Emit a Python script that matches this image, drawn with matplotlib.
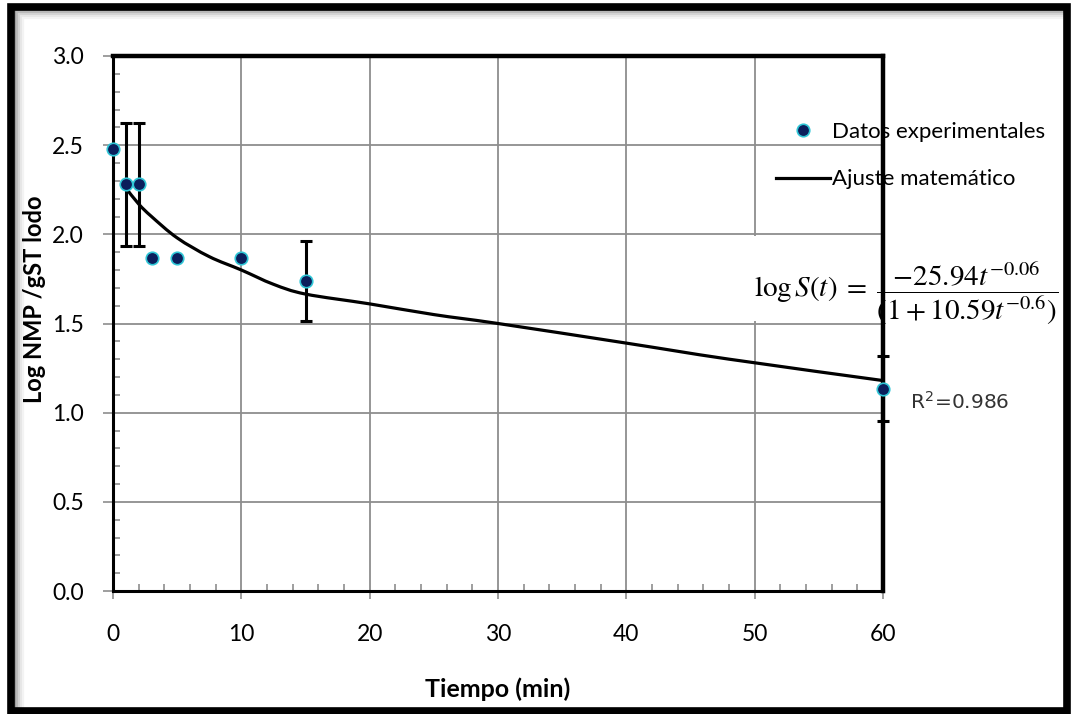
import matplotlib
matplotlib.use("Agg")
import matplotlib.pyplot as plt
from matplotlib.lines import Line2D
from matplotlib.patches import Rectangle, PathPatch
from matplotlib.path import Path
from matplotlib.ticker import MultipleLocator
import numpy as np

plt.rcParams["font.family"] = ["Lato", "DejaVu Sans"]
plt.rcParams["mathtext.fontset"] = "stix"

# experimental points
t_exp = [0, 1, 2, 3, 5, 10, 15, 60]
log_exp = [2.48, 2.28, 2.28, 1.87, 1.87, 1.87, 1.74, 1.135]
err_exp = [0, 0.345, 0.345, 0, 0, 0, 0.225, 0.184]

# fitted curve
t_fit = [1, 2, 3, 5, 7.5, 10, 12.5, 15, 20, 25, 30, 40, 48, 60]
log_fit = [2.26, 2.17, 2.10, 1.98, 1.875, 1.80, 1.72, 1.665, 1.61, 1.55, 1.50, 1.39, 1.30, 1.18]

x_ticks = [0, 10, 20, 30, 40, 50, 60]
y_ticks = [0.0, 0.5, 1.0, 1.5, 2.0, 2.5, 3.0]

W, H = 1071, 714
NAVY = "#0b1f5c"
CYAN = "#2fc6d6"
GRID = "#8e8e8e"


def px(x, y):
    return x / W, 1 - y / H


def smooth_path(x, y):
    # smoothed polyline (cubic Bezier through every point)
    pts = np.column_stack([x, y]).astype(float)
    verts, codes = [pts[0]], [Path.MOVETO]
    n = len(pts)
    for i in range(n - 1):
        p0 = pts[i - 1] if i > 0 else pts[i]
        p1, p2 = pts[i], pts[i + 1]
        p3 = pts[i + 2] if i + 2 < n else pts[i + 1]
        verts += [p1 + (p2 - p0) / 6, p2 - (p3 - p1) / 6, p2]
        codes += [Path.CURVE4] * 3
    return Path(verts, codes)


fig = plt.figure(figsize=(W / 100, H / 100), dpi=100)
fig.patch.set_facecolor("white")

l, b = px(113, 591)
r, t = px(883, 56)
ax = fig.add_axes([l, b, r - l, t - b])
ax.set_axisbelow(True)

ax.add_patch(PathPatch(smooth_path(t_fit, log_fit), fill=False, edgecolor="black",
                       lw=2.3, zorder=2, capstyle="round"))

t_err = [tt for tt, e in zip(t_exp, err_exp) if e > 0]
v_err = [v for v, e in zip(log_exp, err_exp) if e > 0]
e_err = [e for e in err_exp if e > 0]
ax.errorbar(t_err, v_err, yerr=e_err, fmt="none", ecolor="black", elinewidth=2.2,
            capsize=4, capthick=2.2, zorder=3, clip_on=False)

ax.plot(t_exp, log_exp, "o", ms=9, mfc=NAVY, mec=CYAN, mew=1.2, ls="none",
        zorder=4, clip_on=False)

ax.set_xlim(0, 60)
ax.set_ylim(0, 3)
ax.set_xticks(x_ticks)
ax.set_yticks(y_ticks)
ax.set_yticklabels([f"{v:.1f}" for v in y_ticks])
ax.xaxis.set_minor_locator(MultipleLocator(2))
ax.yaxis.set_minor_locator(MultipleLocator(0.1))
ax.tick_params(which="major", direction="out", color=GRID, width=1.2, labelsize=16.5)
ax.tick_params(axis="x", which="major", length=6, pad=18)
ax.tick_params(axis="y", which="major", length=7, pad=14)
ax.tick_params(which="minor", direction="in", color=GRID, width=1.2, length=5)
ax.grid(True, which="major", color=GRID, lw=1.3)

for side in ("top", "right"):
    ax.spines[side].set_linewidth(3.2)
for side in ("left", "bottom"):
    ax.spines[side].set_linewidth(2.2)
for s in ax.spines.values():
    s.set_color("black")
    s.set_zorder(2.5)

ax.set_xlabel("Tiempo (min)", fontsize=18, fontweight="bold")
ax.xaxis.set_label_coords(0.5, -0.161)
ax.set_ylabel("Log NMP /gST lodo", fontsize=17, fontweight="bold")
ax.yaxis.set_label_coords(-0.087, 0.545)

handles = [
    Line2D([], [], marker="o", ms=9, mfc=NAVY, mec=CYAN, mew=1.2, ls="none"),
    Line2D([], [], color="black", lw=2.3),
]
leg = ax.legend(handles, ["Datos experimentales", "Ajuste matemático"],
                loc="upper left", bbox_to_anchor=(0.85, 0.894), frameon=False,
                fontsize=16, handlelength=2.4, handletextpad=0.1, labelspacing=1.25,
                borderaxespad=0)
leg.set_zorder(1)

# white box behind the equation hides the grid
ax.add_patch(Rectangle((0.83, 0.505), 0.4, 0.159, transform=ax.transAxes,
                       facecolor="white", edgecolor="none", zorder=1, clip_on=False))
ax.text(0.833, 0.556,
        r"$\log S(t)\;=\;\dfrac{-25.94t^{-0.06}}{(1+10.59t^{-0.6})}$",
        transform=ax.transAxes, fontsize=21, ha="left", va="center", zorder=1.5,
        clip_on=False)

ax.text(1.035, 0.354, r"R$^{\mathregular{2}}$=0.986", transform=ax.transAxes,
        fontsize=14.5, color="#333333", family="DejaVu Sans", ha="left", va="center",
        zorder=1)

# outer frame with a soft inner shadow
for i, g in enumerate(["#9a9a9a", "#b8b8b8", "#d2d2d2", "#e6e6e6", "#f3f3f3"]):
    x0, y0 = px(15 + i * 2, 708)
    x1, y1 = px(1064, 10 + i * 2)
    fig.add_artist(Line2D([x0, x0], [y0, y1], color=g, lw=1.6,
                          transform=fig.transFigure, zorder=-1))
    fig.add_artist(Line2D([x0, x1], [y1, y1], color=g, lw=1.6,
                          transform=fig.transFigure, zorder=-1))
fx0, fy0 = px(11, 711)
fx1, fy1 = px(1067, 6.5)
fig.add_artist(Rectangle((fx0, fy0), fx1 - fx0, fy1 - fy0, transform=fig.transFigure,
                         fill=False, edgecolor="black", lw=5.5))

fig.savefig("out.png", dpi=100)
